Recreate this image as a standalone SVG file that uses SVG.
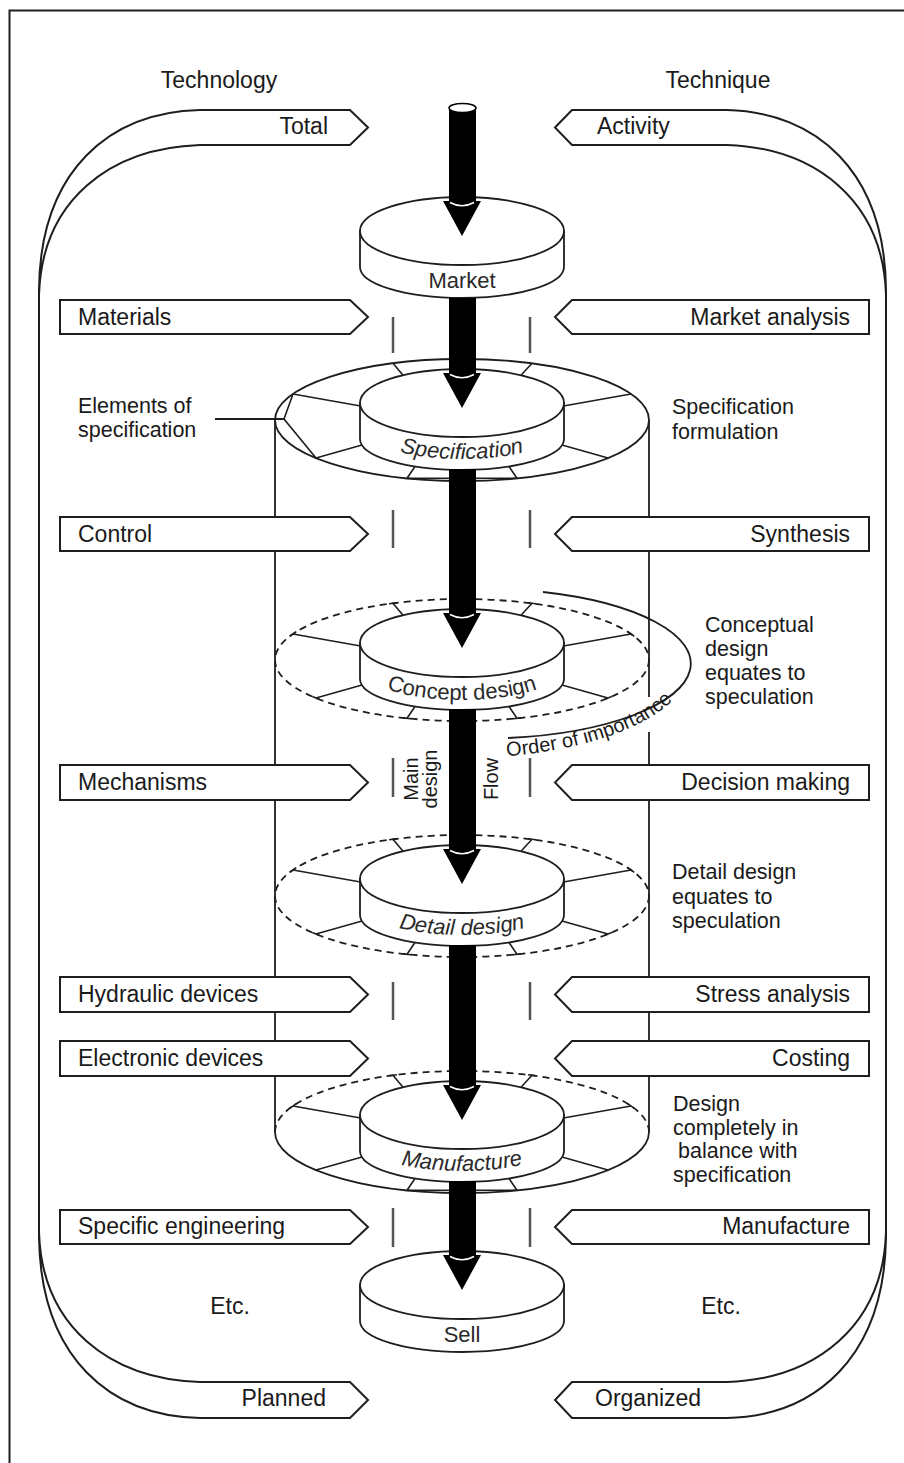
<svg xmlns="http://www.w3.org/2000/svg" width="904" height="1463" viewBox="0 0 904 1463">
<defs>
<style>
.ln{fill:none;stroke:#1e1e1e;stroke-width:1.8}
.bx{fill:#fff;stroke:#1e1e1e;stroke-width:2}
.df{fill:#fff;stroke:#1e1e1e;stroke-width:1.8}
.dsh{stroke-dasharray:7 5}
.tk{fill:none;stroke:#1e1e1e;stroke-width:1.6}
.t{font-family:"Liberation Sans",Arial,Helvetica,sans-serif;font-size:23px;fill:#1a1a1a}
.e{text-anchor:end}
.m{text-anchor:middle}
.dl{font-size:22px;fill:#2a2a2a}
.it{font-style:italic}
.sm{font-size:20px}
.ml{font-size:21.5px}
.mk{stroke:#555;stroke-width:2.5}
</style>
<g id="disk"><path class="df" d="M-102,0 V36 A102,31 0 0 0 102,36 V0 Z"/><ellipse class="df" cx="0" cy="0" rx="102" ry="34"/></g>
<path id="spokes" class="tk" d="M-69,-39.7 L-59,-27.7 M70,-39.7 L59,-27.7 M-169,-9 L-101.5,3 M169,-9 L101.5,3 M-146,55 L-100,42 M146,55 L100,42 M-55,75.3 L-47,63.5 M55,75.3 L47,63.5"/>
<path id="ticks" class="tk" d="M-73,-39.2 L-65,-40.2 M66,-40.2 L74,-39.2 M-172.3,-6.7 L-165.7,-11.3 M165.7,-11.3 L172.3,-6.7 M-149.7,53.5 L-142.3,56.5 M142.3,56.5 L149.7,53.5 M-59,74.9 L-51,75.7 M51,75.7 L59,74.9"/>
<path id="ticksTop" class="tk" d="M-73,-39.2 L-65,-40.2 M66,-40.2 L74,-39.2 M-172.3,-6.7 L-165.7,-11.3 M165.7,-11.3 L172.3,-6.7"/>
<g id="head"><path d="M-19,0 L19,0 L0,35 Z" fill="#000"/><path d="M-12,1.5 Q0,8 12,1.5" fill="none" stroke="#fff" stroke-width="1.5"/></g>
<path id="p-spec" d="M367,438 A102,33 0 0 0 557,438"/>
<path id="p-con" d="M367,679 A102,33 0 0 0 557,679"/>
<path id="p-det" d="M367,914 A102,33 0 0 0 557,914"/>
<path id="p-man" d="M367,1150 A102,33 0 0 0 557,1150"/>
<path id="p-oi" d="M495,757 A228,93 0 0 0 690,665"/>
</defs>

<rect x="9.5" y="10.5" width="1000" height="1500" fill="#fff" stroke="#1e1e1e" stroke-width="2"/>

<g id="headings">
<text class="t m" x="219" y="88">Technology</text>
<text class="t m" x="718" y="88">Technique</text>
</g>

<g id="band-technology">
<path class="bx" d="M368,127.5 L350,110 H200 C110,112 40,170 39,290 V1238 C41,1358 110,1416 200,1418 H350 L368,1400 L350,1382 H200 C110,1379 42,1327 39,1232 V295 C42,200 110,148 200,145 H350 Z"/>
<text class="t e" x="328" y="134">Total</text>
<text class="t e" x="326" y="1406">Planned</text>
</g>
<g id="band-technique">
<path class="bx" d="M555,127.5 L572,110 H727 C815,112 885,170 886,290 V1238 C884,1358 815,1416 727,1418 H572 L555,1400 L572,1382 H727 C815,1379 883,1327 886,1232 V295 C883,200 815,148 727,145 H572 Z"/>
<text class="t" x="597" y="134">Activity</text>
<text class="t" x="595" y="1406">Organized</text>
</g>

<g id="cylinder">
<path class="ln" d="M275,420 V1132 M649,420 V697 M649,732 V1132"/>
</g>

<g id="ring-specification">
<ellipse class="ln" cx="462" cy="420" rx="187" ry="61"/>
<use href="#spokes" x="462" y="403"/>
<path class="tk" d="M293,394 L284,419 L316,458 M407,478.3 L517,478.3"/>
</g>
<g id="ring-concept">
<ellipse class="ln dsh" cx="462" cy="660" rx="187" ry="61"/>
<use href="#spokes" x="462" y="643"/>
<use href="#ticks" x="462" y="643"/>
</g>
<g id="ring-detail">
<ellipse class="ln dsh" cx="462" cy="896" rx="187" ry="61"/>
<use href="#spokes" x="462" y="879"/>
<use href="#ticks" x="462" y="879"/>
</g>
<g id="ring-manufacture">
<path class="ln dsh" d="M275,1132 A187,61 0 0 1 649,1132"/>
<path class="ln" d="M649,1132 A187,61 0 0 1 275,1132"/>
<use href="#spokes" x="462" y="1115"/>
<use href="#ticksTop" x="462" y="1115"/>
<path class="tk" d="M407,1190.3 L517,1190.3"/>
</g>

<g id="node-market"><use href="#disk" x="462" y="231"/><text class="t dl m" x="462" y="288">Market</text></g>
<g id="node-specification"><use href="#disk" x="462" y="403"/><text class="t dl it"><textPath href="#p-spec" startOffset="50%" text-anchor="middle">Specification</textPath></text></g>
<g id="node-concept"><use href="#disk" x="462" y="643"/><text class="t dl"><textPath href="#p-con" startOffset="50%" text-anchor="middle">Concept design</textPath></text></g>
<g id="node-detail"><use href="#disk" x="462" y="879"/><text class="t dl it"><textPath href="#p-det" startOffset="50%" text-anchor="middle">Detail design</textPath></text></g>
<g id="node-manufacture"><use href="#disk" x="462" y="1115"/><text class="t dl it"><textPath href="#p-man" startOffset="50%" text-anchor="middle">Manufacture</textPath></text></g>
<g id="node-sell"><use href="#disk" x="462" y="1285"/><text class="t dl m" x="462" y="1342">Sell</text></g>

<g id="order-of-importance">
<path class="ln" d="M543,592 A210,75 0 0 1 508,738"/>
<text class="t sm"><textPath href="#p-oi" startOffset="12">Order of importance</textPath></text>
</g>

<g id="left-items">
<path class="bx" d="M60,300 H350 L368,317 L350,334 H60 Z"/><text class="t" x="78" y="325">Materials</text>
<path class="bx" d="M60,517 H350 L368,534 L350,551 H60 Z"/><text class="t" x="78" y="542">Control</text>
<path class="bx" d="M60,765 H350 L368,782.5 L350,800 H60 Z"/><text class="t" x="78" y="790">Mechanisms</text>
<path class="bx" d="M60,977 H350 L368,994.5 L350,1012 H60 Z"/><text class="t" x="78" y="1002">Hydraulic devices</text>
<path class="bx" d="M60,1041 H350 L368,1058.5 L350,1076 H60 Z"/><text class="t" x="78" y="1066">Electronic devices</text>
<path class="bx" d="M60,1210 H350 L368,1227 L350,1244 H60 Z"/><text class="t" x="78" y="1234">Specific engineering</text>
<text class="t m" x="230" y="1314">Etc.</text>
</g>
<g id="right-items">
<path class="bx" d="M869,300 H572 L555,317 L572,334 H869 Z"/><text class="t e" x="850" y="325">Market analysis</text>
<path class="bx" d="M869,517 H572 L555,534 L572,551 H869 Z"/><text class="t e" x="850" y="542">Synthesis</text>
<path class="bx" d="M869,765 H572 L555,782.5 L572,800 H869 Z"/><text class="t e" x="850" y="790">Decision making</text>
<path class="bx" d="M869,977 H572 L555,994.5 L572,1012 H869 Z"/><text class="t e" x="850" y="1002">Stress analysis</text>
<path class="bx" d="M869,1041 H572 L555,1058.5 L572,1076 H869 Z"/><text class="t e" x="850" y="1066">Costing</text>
<path class="bx" d="M869,1210 H572 L555,1227 L572,1244 H869 Z"/><text class="t e" x="850" y="1234">Manufacture</text>
<text class="t m" x="721" y="1314">Etc.</text>
</g>

<g id="markers">
<path class="mk" d="M393,317 V353 M530,317 V353 M393,510 V548 M530,510 V548 M393,758 V797 M530,758 V797 M393,982 V1020 M530,982 V1020 M393,1208 V1247 M530,1208 V1247"/>
</g>

<g id="annotations">
<text class="t ml" x="78" y="413">Elements of</text>
<text class="t ml" x="78" y="437">specification</text>
<path class="ln" d="M215,419 H284"/>
<text class="t ml" x="672" y="414">Specification</text>
<text class="t ml" x="672" y="439">formulation</text>
<text class="t ml" x="705" y="632">Conceptual</text>
<text class="t ml" x="705" y="656">design</text>
<text class="t ml" x="705" y="680">equates to</text>
<text class="t ml" x="705" y="704">speculation</text>
<text class="t ml" x="672" y="879">Detail design</text>
<text class="t ml" x="672" y="904">equates to</text>
<text class="t ml" x="672" y="928">speculation</text>
<text class="t ml" x="673" y="1111">Design</text>
<text class="t ml" x="673" y="1135">completely in</text>
<text class="t ml" x="678" y="1158">balance with</text>
<text class="t ml" x="673" y="1182">specification</text>
<text class="t sm m" transform="translate(418,779) rotate(-90)">Main</text>
<text class="t sm m" transform="translate(437,779) rotate(-90)">design</text>
<text class="t sm m" transform="translate(498,779) rotate(-90)">Flow</text>
</g>

<g id="connectors">
<rect x="449" y="108" width="27" height="95" fill="#000"/>
<ellipse cx="462.5" cy="108" rx="13.5" ry="4.5" fill="#fff" stroke="#000" stroke-width="1.5"/>
<use href="#head" x="462" y="201"/>
<rect x="449" y="298" width="27" height="77" fill="#000"/>
<use href="#head" x="462" y="373"/>
<rect x="449" y="469" width="27" height="146" fill="#000"/>
<use href="#head" x="462" y="613"/>
<rect x="449" y="709" width="27" height="142" fill="#000"/>
<use href="#head" x="462" y="849"/>
<rect x="449" y="945" width="27" height="142" fill="#000"/>
<use href="#head" x="462" y="1085"/>
<rect x="449" y="1181" width="27" height="76" fill="#000"/>
<use href="#head" x="462" y="1255"/>
</g>
</svg>
